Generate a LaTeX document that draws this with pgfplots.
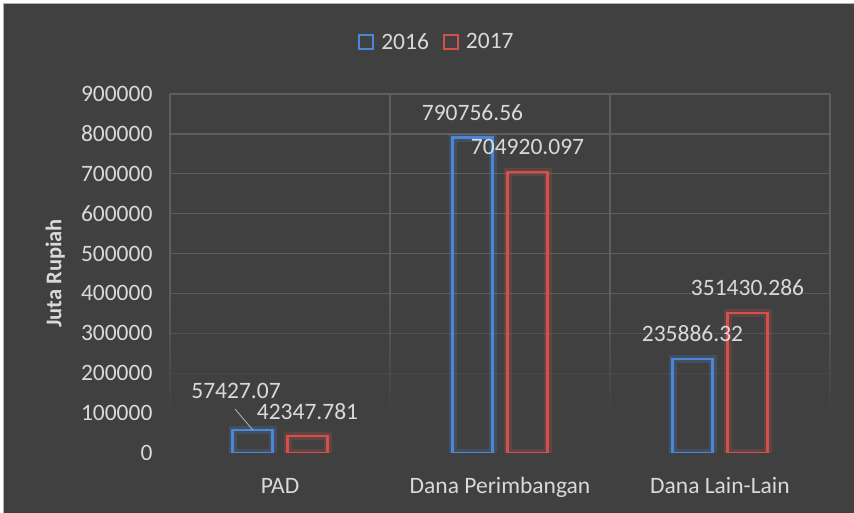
\documentclass[border=0pt]{standalone}
\usepackage{pgfplots}
\pgfplotsset{compat=1.18}
\usepackage{pgfplotstable}
\usepackage{fontspec}
\setmainfont{Carlito}
\definecolor{bg}{HTML}{404040}
\definecolor{txt}{HTML}{D9D9D9}
\definecolor{grd}{HTML}{5E5E5E}
\definecolor{cblue}{HTML}{4C86D6}
\definecolor{cred}{HTML}{D4504D}

\pgfplotstableread{
x y lab dx dy
0 57427.07 57427.07 -16.5 31.5
1 790756.56 790756.56 0 17
2 235886.32 235886.32 0 17
}\tA
\pgfplotstableread{
x y lab dx dy
0 42347.781 42347.781 0 17
1 704920.097 704920.097 0 17
2 351430.286 351430.286 0 17
}\tB

\begin{document}
\begin{tikzpicture}[x=1pt,y=1pt]
\useasboundingbox (0,0) rectangle (854,513);
\fill[white] (0,0) rectangle (854,513);
\fill[bg] (4,0) rectangle (854,509);
\draw[gray!60, line width=1.2] (3.4,-2) -- (3.4,509.6) -- (856,509.6);
% fading gridlines
\foreach \k in {0,...,9} {
  \pgfmathsetmacro\yy{60+\k*359/9}
  \pgfmathsetmacro\op{max(0,min(1,(\yy-100)/130))}
  \draw[grd, line width=1.3, opacity=\op] (170,\yy) -- (830,\yy);
}
\foreach \xx in {170,390,610,830} {
  \foreach \s in {0,...,29} {
    \pgfmathsetmacro\ya{60+\s*359/30}
    \pgfmathsetmacro\yb{60+(\s+1)*359/30}
    \pgfmathsetmacro\op{max(0,min(1,((\ya+\yb)/2-93)/130))}
    \draw[grd, line width=1.3, opacity=\op] (\xx,\ya) -- (\xx,\yb);
  }
}
\begin{axis}[
  at={(170pt,60pt)}, anchor=south west,
  scale only axis, width=660pt, height=359pt,
  ybar, bar width=40pt,
  xmin=-0.5, xmax=2.5, ymin=0, ymax=900000,
  axis line style={draw=none},
  major tick length=0pt,
  xtick={0,1,2},
  xticklabels={PAD,Dana Perimbangan,Dana Lain-Lain},
  ytick={0,100000,200000,300000,400000,500000,600000,700000,800000,900000},
  scaled y ticks=false,
  ticklabel style={font=\fontsize{23.5}{28}\selectfont, text=txt},
  yticklabel style={/pgf/number format/fixed, /pgf/number format/1000 sep={}, /pgf/number format/assume math mode=true, anchor=east, xshift=-14pt},
  xticklabel style={anchor=base, yshift=-41pt},
  ylabel={Juta Rupiah},
  ylabel style={font=\bfseries\fontsize{22.5}{26}\selectfont, text=txt, at={(axis description cs:-0.174,0.5)}, anchor=center},
  legend columns=2,
  legend style={draw=none, fill=none, at={(axis description cs:0.4045,1.145)}, anchor=center,
    font=\fontsize{23.5}{28}\selectfont, text=txt,
    /tikz/every even column/.append style={column sep=12pt}},
  legend image code/.code={\draw[#1, line width=1.6pt, fill=none] (0pt,-7pt) rectangle (14pt,7pt); \path (19pt,0pt);},
]
% glow
\addplot[forget plot, draw=cblue, draw opacity=0.22, line width=8pt, fill=none, bar shift=-27.5pt] table[x=x,y=y]{\tA};
\addplot[forget plot, draw=cred, draw opacity=0.22, line width=8pt, fill=none, bar shift=27.5pt] table[x=x,y=y]{\tB};
% bars
\addplot[draw=cblue, line width=2.4pt, fill=none, bar shift=-27.5pt,
  nodes near coords, point meta=explicit symbolic,
  visualization depends on={\thisrow{dx} \as \dx},
  visualization depends on={\thisrow{dy} \as \dy},
  nodes near coords style={font=\fontsize{23.5}{28}\selectfont, text=txt, anchor=base, xshift=\dx pt, yshift=\dy pt}]
  table[x=x,y=y,meta=lab]{\tA};
\addplot[draw=cred, line width=2.4pt, fill=none, bar shift=27.5pt,
  nodes near coords, point meta=explicit symbolic,
  visualization depends on={\thisrow{dx} \as \dx},
  visualization depends on={\thisrow{dy} \as \dy},
  nodes near coords style={font=\fontsize{23.5}{28}\selectfont, text=txt, anchor=base, xshift=\dx pt, yshift=\dy pt}]
  table[x=x,y=y,meta=lab]{\tB};
\legend{2016,2017}
\draw[txt!70!bg, line width=0.9pt] (axis cs:-0.2045,110270) -- (axis cs:-0.1227,57000);
\end{axis}
\end{tikzpicture}
\end{document}
